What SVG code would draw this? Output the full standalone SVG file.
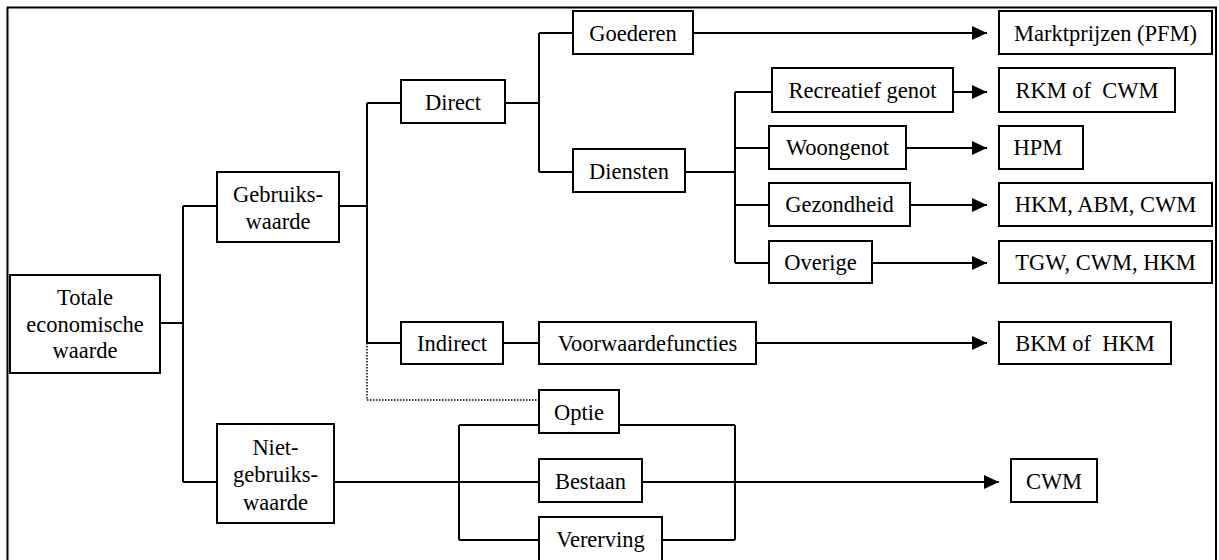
<svg xmlns="http://www.w3.org/2000/svg" width="1219" height="560" viewBox="0 0 1219 560">
<style>
  .box { fill: #fff; stroke: #000; stroke-width: 2; }
  .t { font-family: 'Liberation Serif', 'Times New Roman', Times, 'DejaVu Serif', serif; font-size: 22.5px; fill: #000; text-anchor: middle; }
  .ln { fill: none; stroke: #000; stroke-width: 2; }
  .dot { fill: none; stroke: #000; stroke-width: 1.5; stroke-dasharray: 1.5 1.5; }
</style>
<defs>
  <marker id="arr" markerWidth="15" markerHeight="14" refX="15" refY="7" orient="auto" markerUnits="userSpaceOnUse">
    <path d="M0,0 L15,7 L0,14 Z" fill="#000"/>
  </marker>
</defs>
<rect x="0" y="0" width="1219" height="560" fill="#fff"/>
<rect x="7.5" y="7.5" width="1208.5" height="600" fill="none" stroke="#000" stroke-width="2"/>

<g id="connectors">
  <path class="ln" d="M160,323 H183 M183,206 V482 M183,206 H217 M183,482 H217"/>
  <path class="ln" d="M339,206 H367 M367,103 V343 M367,103 H401 M367,343 H401"/>
  <path class="dot" d="M367,343 V400 H539"/>
  <path class="ln" d="M505,103 H539 M539,33 V172 M539,33 H573 M539,172 H573"/>
  <path class="ln" d="M685,172 H735 M735,92 V263 M735,92 H772 M735,148 H769 M735,205 H769 M735,263 H769"/>
  <path class="ln" d="M693,33 H987" marker-end="url(#arr)"/>
  <path class="ln" d="M953,92 H987" marker-end="url(#arr)"/>
  <path class="ln" d="M906,148 H987" marker-end="url(#arr)"/>
  <path class="ln" d="M910,205 H987" marker-end="url(#arr)"/>
  <path class="ln" d="M872,263 H987" marker-end="url(#arr)"/>
  <path class="ln" d="M503,343 H539"/>
  <path class="ln" d="M756,343 H987" marker-end="url(#arr)"/>
  <path class="ln" d="M334,482 H539 M459,425 V540 M459,425 H539 M459,540 H539"/>
  <path class="ln" d="M619,425 H735 M662,540 H735 M735,425 V540"/>
  <path class="ln" d="M642,482 H999" marker-end="url(#arr)"/>
</g>

<g id="n-totale">
  <rect class="box" x="10" y="275" width="150" height="98"/>
  <text class="t" x="85" y="305">Totale</text>
  <text class="t" x="85" y="332">economische</text>
  <text class="t" x="85" y="358">waarde</text>
</g>
<g id="n-gebruik">
  <rect class="box" x="217" y="172" width="122" height="70"/>
  <text class="t" x="278" y="202">Gebruiks-</text>
  <text class="t" x="278" y="229">waarde</text>
</g>
<g id="n-niet">
  <rect class="box" x="217" y="424" width="117" height="99"/>
  <text class="t" x="275.5" y="455">Niet-</text>
  <text class="t" x="275.5" y="482">gebruiks-</text>
  <text class="t" x="275.5" y="510">waarde</text>
</g>
<g id="n-direct">
  <rect class="box" x="401" y="80" width="104" height="43"/>
  <text class="t" x="453" y="110">Direct</text>
</g>
<g id="n-indirect">
  <rect class="box" x="401" y="322" width="102" height="42"/>
  <text class="t" x="452" y="351">Indirect</text>
</g>
<g id="n-goederen">
  <rect class="box" x="573" y="11" width="120" height="43"/>
  <text class="t" x="633" y="41">Goederen</text>
</g>
<g id="n-diensten">
  <rect class="box" x="573" y="149" width="112" height="43"/>
  <text class="t" x="629" y="179">Diensten</text>
</g>
<g id="n-recreatief">
  <rect class="box" x="772" y="68" width="181" height="44"/>
  <text class="t" x="862.5" y="98">Recreatief genot</text>
</g>
<g id="n-woongenot">
  <rect class="box" x="769" y="126" width="137" height="43"/>
  <text class="t" x="837.5" y="155">Woongenot</text>
</g>
<g id="n-gezondheid">
  <rect class="box" x="769" y="183" width="141" height="43"/>
  <text class="t" x="839.5" y="212">Gezondheid</text>
</g>
<g id="n-overige">
  <rect class="box" x="769" y="241" width="103" height="42"/>
  <text class="t" x="820.5" y="270">Overige</text>
</g>
<g id="n-voorwaarde">
  <rect class="box" x="539" y="322" width="217" height="42"/>
  <text class="t" x="647.5" y="351">Voorwaardefuncties</text>
</g>
<g id="n-optie">
  <rect class="box" x="539" y="390" width="80" height="43"/>
  <text class="t" x="579" y="420">Optie</text>
</g>
<g id="n-bestaan">
  <rect class="box" x="539" y="459" width="103" height="43"/>
  <text class="t" x="590.5" y="489">Bestaan</text>
</g>
<g id="n-vererving">
  <rect class="box" x="539" y="517" width="123" height="60"/>
  <text class="t" x="600.5" y="547">Vererving</text>
</g>
<g id="n-markt">
  <rect class="box" x="999" y="11" width="213" height="43"/>
  <text class="t" x="1105.5" y="41">Marktprijzen (PFM)</text>
</g>
<g id="n-rkm">
  <rect class="box" x="999" y="68" width="176" height="44"/>
  <text class="t" x="1087" y="98" xml:space="preserve">RKM of  CWM</text>
</g>
<g id="n-hpm">
  <rect class="box" x="999" y="126" width="84" height="43"/>
  <text class="t" x="1038" y="155">HPM</text>
</g>
<g id="n-hkm">
  <rect class="box" x="999" y="183" width="213" height="43"/>
  <text class="t" x="1105.5" y="212">HKM, ABM, CWM</text>
</g>
<g id="n-tgw">
  <rect class="box" x="999" y="241" width="213" height="42"/>
  <text class="t" x="1105.5" y="270">TGW, CWM, HKM</text>
</g>
<g id="n-bkm">
  <rect class="box" x="999" y="322" width="172" height="42"/>
  <text class="t" x="1085" y="351" xml:space="preserve">BKM of  HKM</text>
</g>
<g id="n-cwm">
  <rect class="box" x="1011" y="459" width="86" height="43"/>
  <text class="t" x="1054" y="489">CWM</text>
</g>
</svg>
